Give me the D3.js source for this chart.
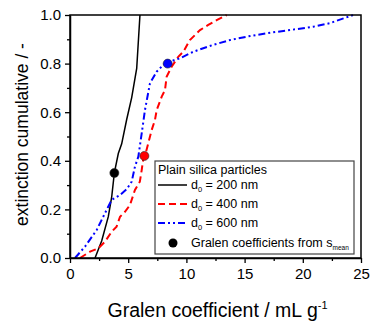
<!DOCTYPE html>
<html lang="en">
<head>
<meta charset="UTF-8">
<title>Gralen coefficient</title>
<style>
* { margin: 0; padding: 0; }
body { background: #fff; font-family: "Liberation Sans", Arial, sans-serif; }
svg { display: block; }
</style>
</head>
<body>
<div id="chart"></div>
<script src="https://d3js.org/d3.v7.min.js"></script>
<script>
// cumulative curves: [gralen coefficient, extinction cumulative]
var d200 = [[2.15,0],[2.72,0.07],[3.29,0.17],[3.58,0.25],[3.81,0.35],[4.15,0.43],[4.44,0.47],[4.87,0.57],[5.3,0.66],[5.73,0.78],[6.01,1.0]];
var d400 = [[0.86,0],[1.72,0.026],[2.43,0.04],[3.0,0.067],[3.58,0.108],[4.0,0.129],[4.3,0.17],[4.72,0.19],[5.15,0.218],[5.58,0.28],[6.0,0.314],[6.16,0.362],[6.3,0.41],[6.44,0.42],[7.02,0.527],[7.3,0.568],[7.45,0.609],[7.88,0.664],[8.16,0.691],[8.3,0.746],[8.73,0.787],[9.3,0.828],[9.74,0.849],[10.3,0.897],[11.17,0.938],[11.88,0.959],[12.6,0.979],[13.46,1.0]];
var d600 = [[0.43,0],[1.29,0.047],[2.29,0.115],[3.0,0.184],[3.58,0.239],[4.3,0.259],[4.87,0.283],[5.3,0.314],[5.58,0.376],[5.87,0.417],[6.16,0.513],[6.44,0.609],[6.87,0.719],[7.45,0.767],[8.0,0.794],[8.39,0.804],[9.0,0.815],[9.45,0.822],[10.6,0.849],[12.3,0.877],[13.75,0.897],[15.2,0.911],[16.9,0.925],[18.9,0.938],[20.9,0.952],[22.3,0.966],[23.5,0.986],[24.35,1.0]];
var meanPoints = [[3.81,0.35,"#000"],[6.39,0.42,"#f00"],[8.39,0.80,"#00f"]];

var xTicks = [0, 5, 10, 15, 20, 25];
var yTicks = [0, 0.2, 0.4, 0.6, 0.8, 1.0];
var legendLabels = ["200 nm", "400 nm", "600 nm"];

var W = 371, H = 324;
var mLeft = 70, mRight = 361, mTop = 15, mBottom = 258;

var svg = d3.select("#chart").append("svg").attr("width", W).attr("height", H);

var x = d3.scaleLinear().domain([0, 25]).range([mLeft, mRight]);
var y = d3.scaleLinear().domain([0, 1]).range([mBottom, mTop]);

var series = [
	{ data: d200, color: "#000", width: 1.5, dash: null },
	{ data: d400, color: "#f00", width: 2, dash: "7,4" },
	{ data: d600, color: "#00f", width: 2, dash: "7,3,2,3,2,3" }
];

var line = d3.line().x(function(d) { return x(d[0]); }).y(function(d) { return y(d[1]); });

series.forEach(function(s) {
	svg.append("path").datum(s.data)
		.attr("d", line)
		.attr("fill", "none")
		.attr("stroke", s.color)
		.attr("stroke-width", s.width)
		.attr("stroke-dasharray", s.dash);
});

svg.selectAll("circle.mean").data(meanPoints).join("circle")
	.attr("class", "mean")
	.attr("cx", function(d) { return x(d[0]); })
	.attr("cy", function(d) { return y(d[1]); })
	.attr("r", 4.5)
	.attr("fill", function(d) { return d[2]; })
	.attr("stroke", "#222")
	.attr("stroke-width", 0.6);

// legend
var lg = svg.append("g").attr("transform", "translate(155,161)");
lg.append("rect").attr("width", 199).attr("height", 93)
	.attr("fill", "#fff").attr("stroke", "#444").attr("stroke-width", 1.2);
lg.append("text").attr("x", 3).attr("y", 13).attr("font-size", 12.5).text("Plain silica particles");
series.forEach(function(s, i) {
	var yy = 28 + i * 19;
	lg.append("line").attr("x1", 3).attr("x2", 32).attr("y1", yy - 4).attr("y2", yy - 4)
		.attr("stroke", s.color).attr("stroke-width", s.width).attr("stroke-dasharray", s.dash);
	var t = lg.append("text").attr("x", 36).attr("y", yy).attr("font-size", 12.5);
	t.append("tspan").text("d");
	t.append("tspan").attr("font-size", 7.5).attr("dy", 3).text("0");
	t.append("tspan").attr("dy", -3).text(" = " + legendLabels[i]);
});
lg.append("circle").attr("cx", 18).attr("cy", 82).attr("r", 4.5).attr("fill", "#000");
var gt = lg.append("text").attr("x", 36).attr("y", 86).attr("font-size", 12.5);
gt.append("tspan").text("Gralen coefficients from s");
gt.append("tspan").attr("font-size", 6.5).attr("dy", 3).text("mean");

// frame
svg.append("rect").attr("x", mLeft).attr("y", mTop)
	.attr("width", mRight - mLeft).attr("height", mBottom - mTop)
	.attr("fill", "none").attr("stroke", "#000").attr("stroke-width", 1.5);

// axes
var xAxis = svg.append("g").attr("transform", "translate(0," + mBottom + ")")
	.call(d3.axisBottom(x).tickValues(xTicks).tickSize(5).tickSizeOuter(0).tickFormat(d3.format("d")));
svg.append("g").attr("transform", "translate(0," + mBottom + ")")
	.call(d3.axisBottom(x).tickValues(d3.range(2.5, 25, 5)).tickSize(3).tickFormat(""))
	.select(".domain").remove();
var yAxis = svg.append("g").attr("transform", "translate(" + mLeft + ",0)")
	.call(d3.axisLeft(y).tickValues(yTicks).tickSize(5).tickSizeOuter(0).tickFormat(d3.format(".1f")));
svg.append("g").attr("transform", "translate(" + mLeft + ",0)")
	.call(d3.axisLeft(y).tickValues(d3.range(0.1, 1, 0.2)).tickSize(3).tickFormat(""))
	.select(".domain").remove();

svg.selectAll(".tick line").attr("stroke", "#000").attr("stroke-width", 1.3);
svg.selectAll(".domain").attr("stroke", "#000").attr("stroke-width", 1.5);
xAxis.selectAll("text").attr("font-size", 15).attr("font-family", "Liberation Sans, Arial, sans-serif").attr("fill", "#000").attr("dy", "0.85em");
yAxis.selectAll("text").attr("font-size", 15).attr("font-family", "Liberation Sans, Arial, sans-serif").attr("fill", "#000").attr("dx", "-1px");

// axis titles
var xt = svg.append("text").attr("x", (mLeft + mRight) / 2 + 2).attr("y", 317)
	.attr("text-anchor", "middle").attr("font-size", 19.5);
xt.append("tspan").text("Gralen coefficient / mL g");
xt.append("tspan").attr("font-size", 11).attr("dy", -8).text("-1");

svg.append("text").attr("transform", "translate(28," + ((mTop + mBottom) / 2 - 2) + ") rotate(-90)")
	.attr("text-anchor", "middle").attr("font-size", 17.5)
	.text("extinction cumulative / -");
</script>
</body>
</html>
